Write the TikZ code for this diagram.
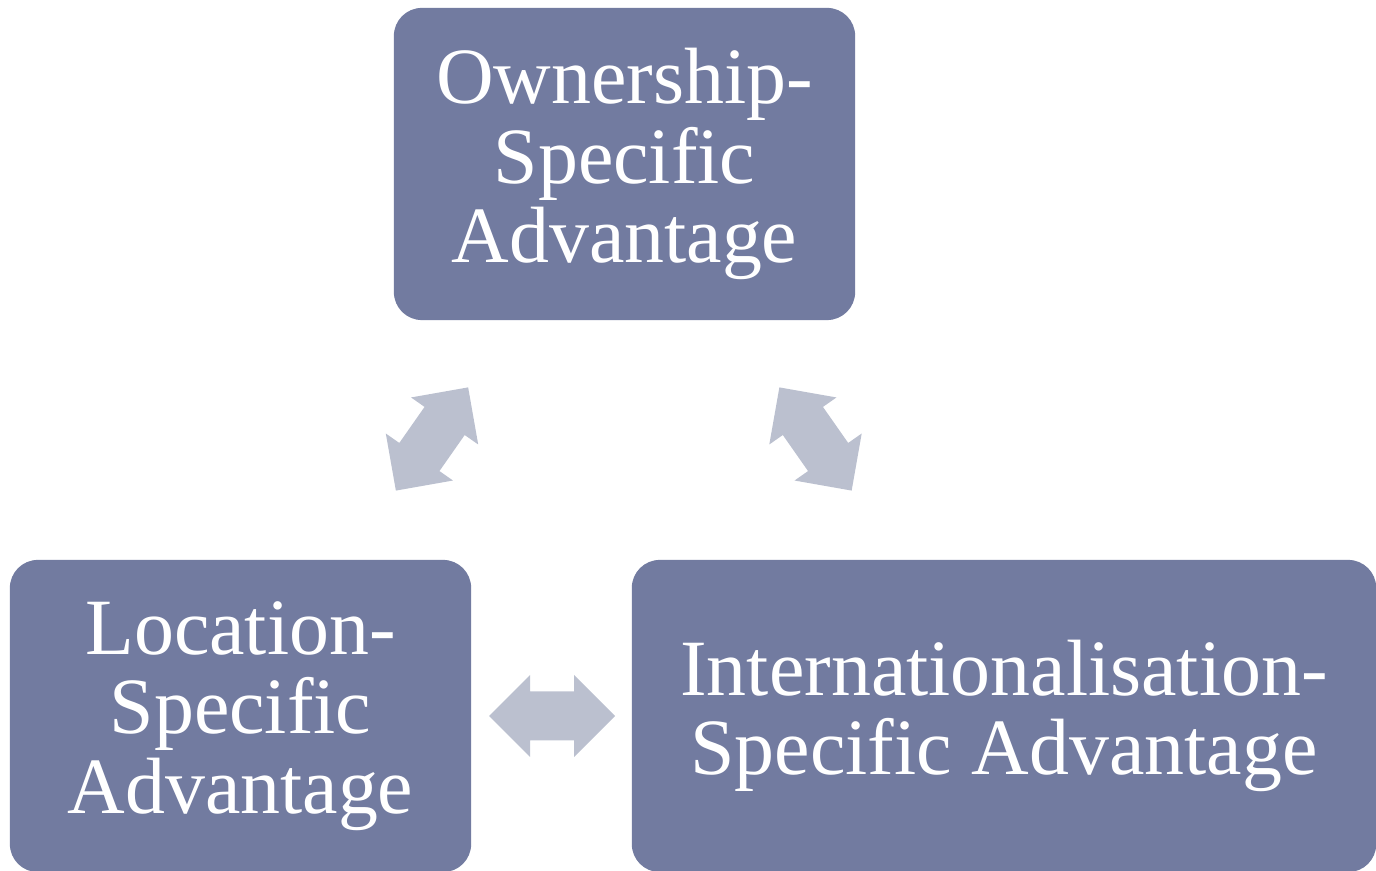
\documentclass[tikz,border=0pt]{standalone}
\usepackage{fontspec}
\setmainfont{Liberation Serif}
\usetikzlibrary{positioning}
\definecolor{boxblue}{RGB}{114,123,160}
\definecolor{arrowgrey}{RGB}{187,192,207}
\tikzset{
  advbox/.style={fill=boxblue, rounded corners=0.28cm, text=white, align=center,
    minimum height=3.12cm, inner sep=0pt, font=\fontsize{22.7pt}{22.6pt}\selectfont},
  twoway/.pic={
    \fill[arrowgrey] (-63,0) -- (-22,41) -- (-22,24.5) -- (22,24.5) -- (22,41) -- (63,0)
      -- (22,-41) -- (22,-24.5) -- (-22,-24.5) -- (-22,-41) -- cycle;
  }
}

\begin{document}
\begin{tikzpicture}[x=0.01cm, y=-0.01cm]
\clip (0,0) rectangle (1376,871);

\node[advbox, minimum width=4.61cm](own) at (624.5,164){Ownership-\\Specific\\Advantage};
\node[advbox, minimum width=4.61cm](loc) at (240.5,716){Location-\\Specific\\Advantage};
\node[advbox, minimum width=7.44cm](intl) at (1004,716){Internationalisation-\\Specific Advantage};

\pic[rotate=55] at (432,439) {twoway};
\pic[rotate=-55] at (815.5,439) {twoway};
\pic at (552,716) {twoway};
\end{tikzpicture}
\end{document}
